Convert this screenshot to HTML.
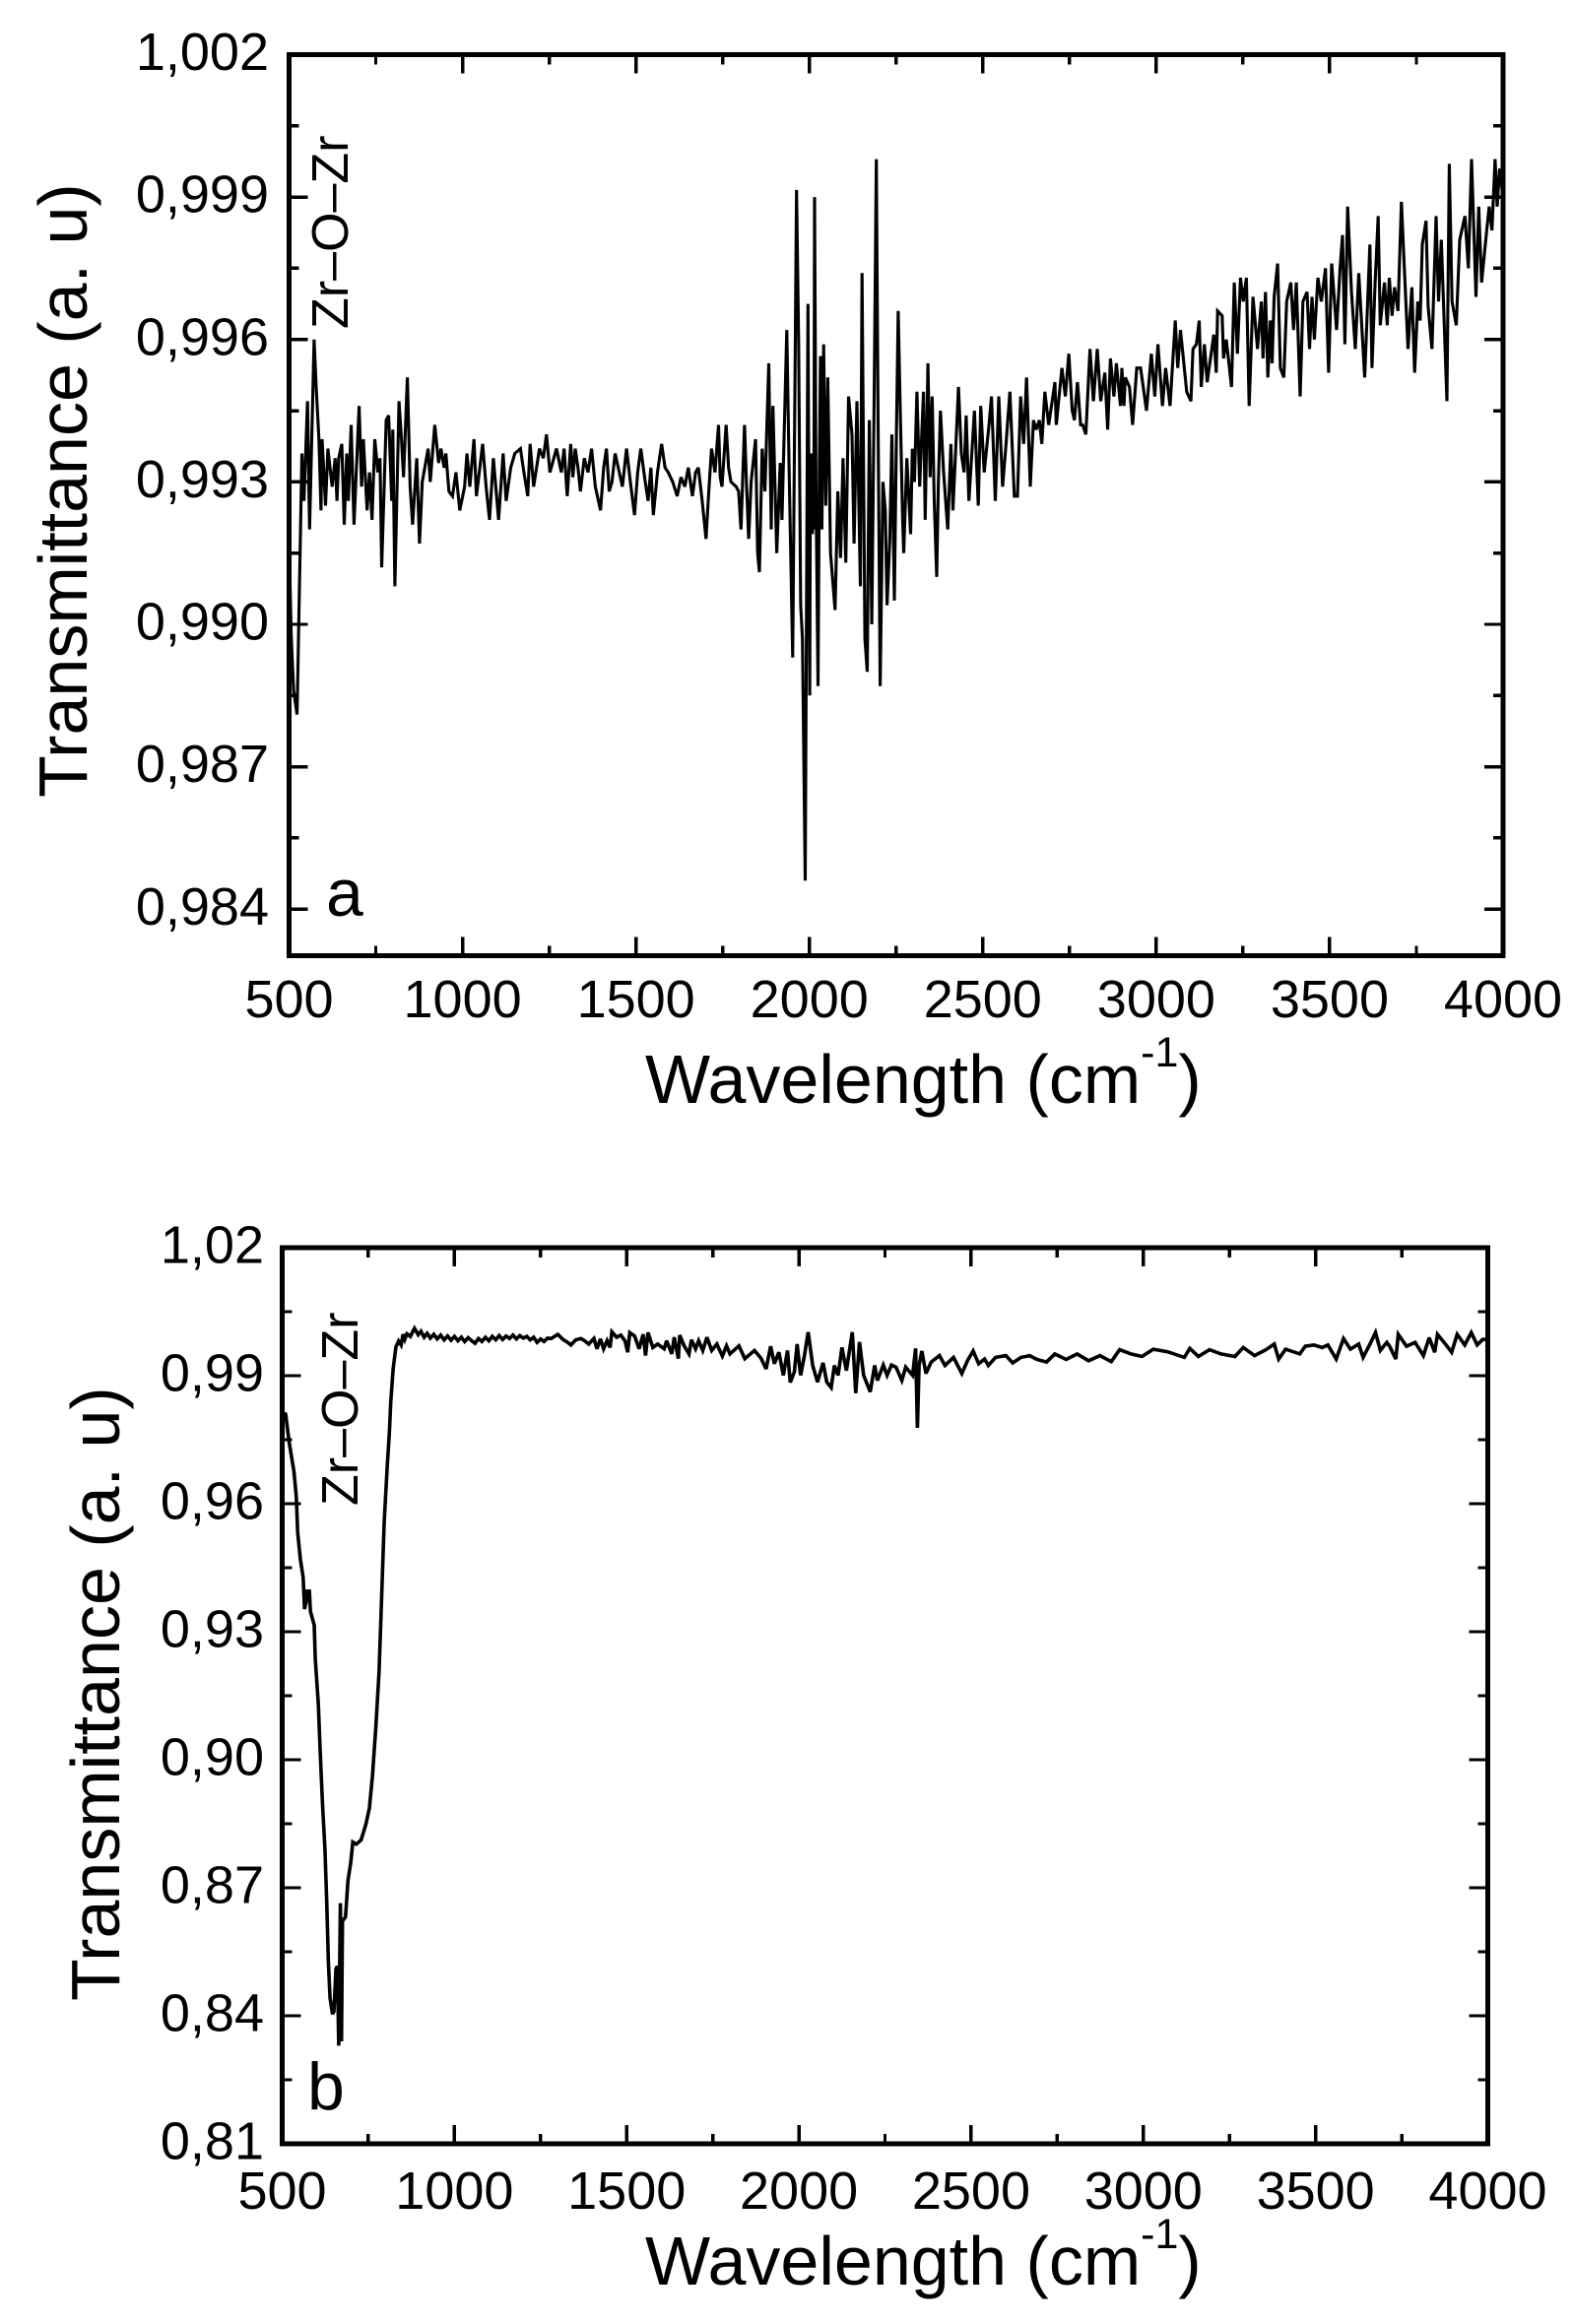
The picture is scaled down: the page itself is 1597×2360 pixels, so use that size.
<!DOCTYPE html>
<html lang="en">
<head>
<meta charset="utf-8">
<title>FTIR transmittance spectra</title>
<style>
  html, body { margin: 0; padding: 0; background: #fff; }
  svg { display: block; }
  text { font-family: "Liberation Sans", Arial, sans-serif; fill: #000; }
</style>
</head>
<body>
<svg id="figure" xmlns="http://www.w3.org/2000/svg" width="1597" height="2360" viewBox="0 0 1597 2360">
  <rect x="0" y="0" width="1597" height="2360" fill="#fff"/>

  <g id="panel-a"></g>
  <g id="panel-b"></g>

  <text transform="translate(88 810) rotate(-90)" font-size="70">Transmittance (a. u)</text>
  <text x="655" y="1120" font-size="70">Wavelength (cm<tspan font-size="43" dy="-37">-1</tspan><tspan font-size="70" dy="37">)</tspan></text>
  <text transform="translate(353 334) rotate(-90)" font-size="52">Zr–O–Zr</text>
  <text x="331" y="930" font-size="68">a</text>

  <text transform="translate(121 2032) rotate(-90)" font-size="70">Transmittance (a. u)</text>
  <text x="655" y="2320" font-size="70">Wavelength (cm<tspan font-size="43" dy="-37">-1</tspan><tspan font-size="70" dy="37">)</tspan></text>
  <text transform="translate(363 1529) rotate(-90)" font-size="52">Zr–O–Zr</text>
  <text x="312" y="2142" font-size="68">b</text>
</svg>

<script>
const xTickValues = [500, 1000, 1500, 2000, 2500, 3000, 3500, 4000];
const xTickLabels = ["500", "1000", "1500", "2000", "2500", "3000", "3500", "4000"];
const xMinorValues = [750, 1250, 1750, 2250, 2750, 3250, 3750];

const yTickValuesA = [1.002, 0.999, 0.996, 0.993, 0.990, 0.987, 0.984];
const yTickLabelsA = ["1,002", "0,999", "0,996", "0,993", "0,990", "0,987", "0,984"];
const yMinorValuesA = [1.0005, 0.9975, 0.9945, 0.9915, 0.9885, 0.9855];

const yTickValuesB = [1.02, 0.99, 0.96, 0.93, 0.90, 0.87, 0.84, 0.81];
const yTickLabelsB = ["1,02", "0,99", "0,96", "0,93", "0,90", "0,87", "0,84", "0,81"];
const yMinorValuesB = [1.005, 0.975, 0.945, 0.915, 0.885, 0.855, 0.825];

const wavenumbersA = [
500,506,513,523,533,537,543,553,559,572,
578,586,592,595,605,612,624,633,638,643,
652,659,666,671,679,687,702,709,714,725,
732,739,747,756,762,767,780,787,796,799,
805,817,824,830,841,849,856,868,876,884,
901,907,920,931,938,947,952,961,971,981,
992,1006,1013,1021,1033,1040,1058,1068,1078,1089,
1104,1117,1126,1139,1151,1167,1177,1188,1195,1205,
1222,1233,1242,1252,1271,1285,1293,1302,1312,1318,
1325,1333,1340,1351,1362,1372,1383,1398,1407,1415,
1423,1431,1440,1449,1461,1473,1484,1496,1505,1514,
1525,1535,1543,1550,1562,1574,1584,1593,1606,1619,
1630,1641,1651,1663,1672,1680,1691,1702,1710,1718,
1728,1738,1743,1748,1760,1767,1774,1789,1796,1803,
1813,1819,1825,1832,1845,1851,1856,1864,1872,1883,
1890,1895,1906,1916,1921,1935,1942,1952,1963,1969,
1975,1980,1988,1996,2001,2003,2005,2007,2009,2011,
2013,2015,2019,2025,
2029,2032,2036,2041,2047,2053,2061,2074,2082,2090,
2097,2105,2113,2123,2129,2137,2147,2152,2160,2167,
2173,2180,2187,2193,2198,2204,2212,2219,2224,2232,
2238,2245,2251,2256,2262,2269,2272,2281,2292,2297,
2303,2310,2318,2324,2329,2334,2342,2348,2354,2360,
2367,2372,2378,2387,2399,2408,2414,2430,2438,2446,
2452,2460,2476,2487,2494,2504,2518,2525,2536,2546,
2557,2567,2578,2591,2600,2609,2618,2626,2637,2646,
2654,2663,2670,2679,2690,2708,2712,2728,2738,2748,
2758,2764,2773,2782,2788,2797,2809,2819,2830,2840,
2852,2860,2868,2878,2885,2897,2901,2907,2911,2923,
2932,2944,2955,2972,2986,2996,3005,3018,3027,3040,
3055,3062,3070,3088,3100,3106,3116,3124,3130,3139,
3147,3166,3173,3177,3190,3194,3202,3217,3225,3234,
3243,3251,3260,3268,3279,3292,3303,3308,3315,3322,
3329,3334,3340,3350,3358,3368,3376,3388,3396,3404,
3415,3423,3435,3442,3449,3456,3466,3476,3488,3497,
3506,3520,3530,3537,3544,3552,3563,3574,3584,3601,
3616,3622,3631,3640,3646,3658,3666,3672,3680,3687,
3697,3707,3716,3726,3737,3745,3754,3761,3767,3778,
3784,3795,3807,3814,3822,3838,3845,3853,3865,3875,
3890,3900,3909,3922,3930,3938,3953,3960,3968,3977,
3983,3990,4000
];
const transmittanceA = [
.9918,.9898,.9886,.9881,.9920,.9936,.9926,.9947,.9920,.9960,
.9950,.9939,.9924,.9939,.9925,.9937,.9929,.9935,.9926,.9935,
.9938,.9921,.9936,.9926,.9942,.9921,.9946,.9929,.9939,.9924,
.9932,.9922,.9939,.9932,.9935,.9912,.9943,.9944,.9926,.9941,
.9908,.9947,.9939,.9931,.9952,.9929,.9921,.9935,.9917,.9930,
.9937,.9930,.9942,.9934,.9937,.9933,.9936,.9928,.9927,.9932,
.9924,.9929,.9936,.9929,.9939,.9927,.9938,.9929,.9922,.9935,
.9922,.9936,.9926,.9933,.9936,.9937,.9932,.9927,.9938,.9929,
.9937,.9935,.9940,.9932,.9937,.9932,.9937,.9927,.9938,.9931,
.9937,.9933,.9928,.9935,.9932,.9937,.9929,.9924,.9933,.9937,
.9928,.9930,.9936,.9933,.9929,.9937,.9930,.9923,.9932,.9937,
.9931,.9926,.9933,.9923,.9932,.9938,.9933,.9932,.9930,.9927,
.9931,.9929,.9933,.9927,.9932,.9933,.9926,.9918,.9928,.9937,
.9932,.9942,.9931,.9929,.9942,.9933,.9930,.9929,.9928,.9920,
.9942,.9929,.9918,.9930,.9939,.9915,.9911,.9937,.9928,.9955,
.9920,.9946,.9915,.9934,.9922,.9962,.9931,.9893,.99915,.9960,
.9904,.9897,.9846,.99675,.9885,.9936,.9919,.9936,.9919,.9936,
.9920,.9990,.9930,.9887,
.9934,.99565,.9920,.9959,.9925,.9952,.9915,.9903,.9928,.9914,
.9935,.9913,.9948,.9940,.9917,.9947,.9908,.9974,.9897,.9890,
.9943,.9900,.9950,.9998,.9945,.9887,.9930,.9924,.9904,.9918,
.9940,.9905,.9940,.9966,.9945,.9922,.9915,.9935,.9919,.9937,
.9930,.9949,.9929,.9940,.9949,.9922,.9955,.9931,.9948,.9926,
.9910,.9930,.9945,.9932,.9920,.9938,.9924,.9950,.9936,.9932,
.9944,.9926,.9945,.9925,.9946,.9932,.9942,.9948,.9926,.9948,
.9929,.9938,.9949,.9927,.9927,.9948,.9938,.9952,.9929,.9943,
.9941,.9943,.9938,.9949,.9942,.9951,.9942,.9954,.9948,.9957,
.9945,.9943,.9951,.9942,.9942,.9940,.9958,.9947,.9958,.9947,
.9953,.9941,.9956,.9948,.9955,.9946,.9954,.9946,.9952,.9950,
.9942,.9954,.9954,.9945,.9957,.9948,.9959,.9946,.9954,.9946,
.9964,.9954,.9962,.9949,.9947,.9958,.9959,.9964,.9950,.9959,
.9951,.9961,.9953,.9966,.9965,.9956,.9960,.9950,.9972,.9957,
.9973,.9968,.9973,.9946,.9969,.9958,.9968,.9956,.9970,.9952,
.9964,.9955,.9969,.9976,.9954,.9952,.9968,.9972,.9962,.9972,
.9948,.9968,.9970,.9958,.9969,.9960,.9973,.9968,.9975,.9953,
.9976,.9962,.9975,.9982,.9959,.9988,.9970,.9958,.9974,.9952,
.9980,.9954,.9972,.9986,.9963,.9972,.9963,.9973,.9965,.9971,
.9966,.9989,.9974,.9958,.9971,.9953,.9968,.9964,.9980,.9985,
.9967,.9958,.9986,.9968,.9981,.9947,.9997,.9968,.9963,.9981,
.9986,.9975,.9998,.9969,.9988,.9972,.9983,.9988,.9983,.9998,
.9988,.9996,.9990
];

const wavenumbersB = [
500,504,510,520,534,541,545,553,561,565,
571,573,579,582,593,596,605,610,617,624,
629,634,639,646,650,656,660,664,669,672,
675,684,691,699,705,715,729,743,753,762,
772,781,788,796,805,811,815,822,830,838,
845,851,856,862,872,884,895,903,912,921,
930,940,950,960,970,980,990,1000,1010,1020,
1030,1040,1050,1060,1070,1080,1090,1100,1110,1120,
1130,1140,1150,1160,1170,1180,1190,1200,1210,1220,
1230,1240,1250,1260,1270,1281,1300,1315,1329,1338,
1352,1367,1378,1390,1405,1414,1424,1433,1443,1452,
1457,1471,1483,1495,1503,1509,1523,1536,1548,1555,
1562,1576,1590,1609,1616,1631,1638,1650,1654,1667,
1681,1688,1700,1709,1721,1733,1747,1762,1778,1790,
1800,1826,1843,1871,1890,1905,1918,1929,1942,1955,
1967,1975,1987,1995,2005,2016,2027,2040,2054,2070,
2081,2094,2103,2114,2125,2138,2155,2165,2176,2188,
2207,2220,2228,2245,2256,2269,2282,2299,2310,2330,
2339,2344,2349,2357,2369,2384,2408,2424,2449,2473,
2490,2506,2522,2539,2550,2571,2601,2621,2645,2670,
2691,2719,2743,2776,2808,2841,2874,2907,2931,2964,
2996,3029,3070,3119,3135,3160,3192,3225,3266,3290,
3323,3356,3380,3393,3413,3454,3470,3495,3519,3536,
3560,3581,3601,3625,3638,3658,3674,3688,3707,3715,
3733,3740,3764,3789,3813,3830,3846,3854,3879,3895,
3911,3933,3952,3969,3985,4000
];
const transmittanceB = [
.9790,.9812,.9810,.9745,.9676,.9617,.9533,.9469,.9427,.9353,
.9374,.9395,.9395,.9347,.9316,.9236,.9130,.9024,.8897,.8791,
.8675,.8526,.8441,.8404,.8410,.8510,.8516,.8330,.8664,.8340,
.8622,.8632,.8717,.8759,.8807,.8802,.8812,.8849,.8886,.8961,
.9077,.9204,.9363,.9554,.9690,.9766,.9838,.9915,.9967,.9981,
.9972,.9997,.9985,.9998,.9992,1.0011,.9996,1.0004,.9990,.9999,
.9988,.9997,.9986,.9995,.9984,.9993,.9983,.9992,.9982,.9990,
.9980,.9989,.9982,.9976,.9987,.9980,.9990,.9982,.9992,.9984,
.9994,.9985,.9993,.9987,.9995,.9986,.9994,.9988,.9992,.9984,
.9990,.9978,.9986,.9980,.9988,.9987,.9997,.9985,.9978,.9972,
.9984,.9987,.9982,.9974,.9987,.9963,.9986,.9963,.9982,.9966,
1.0003,.9990,.9995,.9982,.9955,1.0001,.9993,.9963,.9997,.9947,
1.0001,.9966,.9974,.9963,.9982,.9951,.9990,.9940,.9995,.9970,
.9951,.9984,.9963,.9982,.9959,.9990,.9959,.9974,.9946,.9970,
.9951,.9970,.9940,.9959,.9941,.9916,.9969,.9928,.9955,.9901,
.9959,.9884,.9909,.9974,.9901,.9947,1.0002,.9924,.9885,.9930,
.9885,.9872,.9924,.9901,.9966,.9912,1.0002,.9859,.9979,.9901,
.9862,.9924,.9889,.9925,.9901,.9925,.9920,.9889,.9920,.9901,
.9964,.9778,.9924,.9958,.9905,.9932,.9947,.9924,.9943,.9905,
.9936,.9958,.9928,.9939,.9924,.9943,.9947,.9930,.9943,.9947,
.9938,.9932,.9951,.9938,.9951,.9935,.9947,.9933,.9961,.9951,
.9945,.9962,.9956,.9943,.9964,.9945,.9961,.9951,.9945,.9966,
.9947,.9961,.9974,.9939,.9962,.9951,.9969,.9972,.9966,.9972,
.9939,.9987,.9962,.9974,.9943,.9974,1.0001,.9959,.9978,.9969,
.9939,.9997,.9969,.9978,.9947,.9989,.9955,.9997,.9972,.9955,
.9997,.9972,1.0001,.9972,.9985,.9985
];

const SVG_NS = "http://www.w3.org/2000/svg";

function linearScale(domainStart, domainEnd, rangeStart, rangeEnd) {
  return function (value) {
    return rangeStart + (value - domainStart) * (rangeEnd - rangeStart) / (domainEnd - domainStart);
  };
}

function drawLine(parent, x1, y1, x2, y2, width) {
  const el = document.createElementNS(SVG_NS, "line");
  el.setAttribute("x1", x1);
  el.setAttribute("y1", y1);
  el.setAttribute("x2", x2);
  el.setAttribute("y2", y2);
  el.setAttribute("stroke", "#000");
  el.setAttribute("stroke-width", width);
  el.setAttribute("shape-rendering", "crispEdges");
  parent.appendChild(el);
  return el;
}

function drawLabel(parent, x, y, anchor, content) {
  const el = document.createElementNS(SVG_NS, "text");
  el.setAttribute("x", x);
  el.setAttribute("y", y);
  el.setAttribute("text-anchor", anchor);
  el.setAttribute("font-size", "54");
  el.textContent = content;
  parent.appendChild(el);
  return el;
}

function drawTicks(parent, values, isMajor, axis, xScale, yScale, box) {
  const length = isMajor ? 19 : 10;
  const width = 3.4;
  values.forEach(function (value) {
    if (axis === "x") {
      const px = xScale(value);
      const bottomTick = drawLine(parent, px, box.bottom, px, box.bottom - length, width);
      
      
      const topTick = drawLine(parent, px, box.top, px, box.top + length, width);
      
      
    } else {
      const py = yScale(value);
      const leftTick = drawLine(parent, box.left, py, box.left + length, py, width);
      
      
      const rightTick = drawLine(parent, box.right, py, box.right - length, py, width);
      
      
    }
  });
}

function renderPanel(parent, box, yDomain, wavenumbers, transmittance, yTicks, yLabels, yMinor, opts) {
  const xScale = linearScale(500, 4000, box.left, box.right);
  const yScale = linearScale(yDomain[0], yDomain[1], box.top, box.bottom);

  const count = Math.min(wavenumbers.length, transmittance.length);
  let d = "";
  for (let i = 0; i < count; i++) {
    d += (i === 0 ? "M" : "L") + xScale(wavenumbers[i]).toFixed(1) + " " + yScale(transmittance[i]).toFixed(1);
  }
  const spectrum = document.createElementNS(SVG_NS, "path");
  spectrum.setAttribute("d", d);
  spectrum.setAttribute("fill", "none");
  spectrum.setAttribute("stroke", "#000");
  spectrum.setAttribute("stroke-width", opts.lineWidth);
  spectrum.setAttribute("stroke-linejoin", "miter");
  spectrum.setAttribute("stroke-miterlimit", "3");
  
  
  parent.appendChild(spectrum);

  const frame = document.createElementNS(SVG_NS, "rect");
  frame.setAttribute("x", box.left);
  frame.setAttribute("y", box.top);
  frame.setAttribute("width", box.right - box.left);
  frame.setAttribute("height", box.bottom - box.top);
  frame.setAttribute("fill", "none");
  frame.setAttribute("stroke", "#000");
  frame.setAttribute("stroke-width", "4.6");
  frame.setAttribute("shape-rendering", "crispEdges");
  
  
  parent.appendChild(frame);

  drawTicks(parent, xTickValues, true, "x", xScale, yScale, box);
  drawTicks(parent, xMinorValues, false, "x", xScale, yScale, box);
  drawTicks(parent, yTicks, true, "y", xScale, yScale, box);
  drawTicks(parent, yMinor, false, "y", xScale, yScale, box);

  xTickValues.forEach(function (value, i) {
    const label = drawLabel(parent, xScale(value), opts.xLabelBaseline, "middle", xTickLabels[i]);
    
    
  });
  yTicks.forEach(function (value, i) {
    const label = drawLabel(parent, opts.yLabelRight, yScale(value) + 15.5, "end", yLabels[i]);
    
    
  });
}

renderPanel(
  document.getElementById("panel-a"),
  { left: 293.5, right: 1526, top: 55.5, bottom: 970.5 },
  [1.002, 0.98302],
  wavenumbersA, transmittanceA,
  yTickValuesA, yTickLabelsA, yMinorValuesA,
  { lineWidth: 3.1, xLabelBaseline: 1033, yLabelRight: 273 }
);

renderPanel(
  document.getElementById("panel-b"),
  { left: 286.5, right: 1510.5, top: 1267, bottom: 2177 },
  [1.02, 0.81],
  wavenumbersB, transmittanceB,
  yTickValuesB, yTickLabelsB, yMinorValuesB,
  { lineWidth: 3.6, xLabelBaseline: 2243, yLabelRight: 268 }
);
</script>
</body>
</html>
